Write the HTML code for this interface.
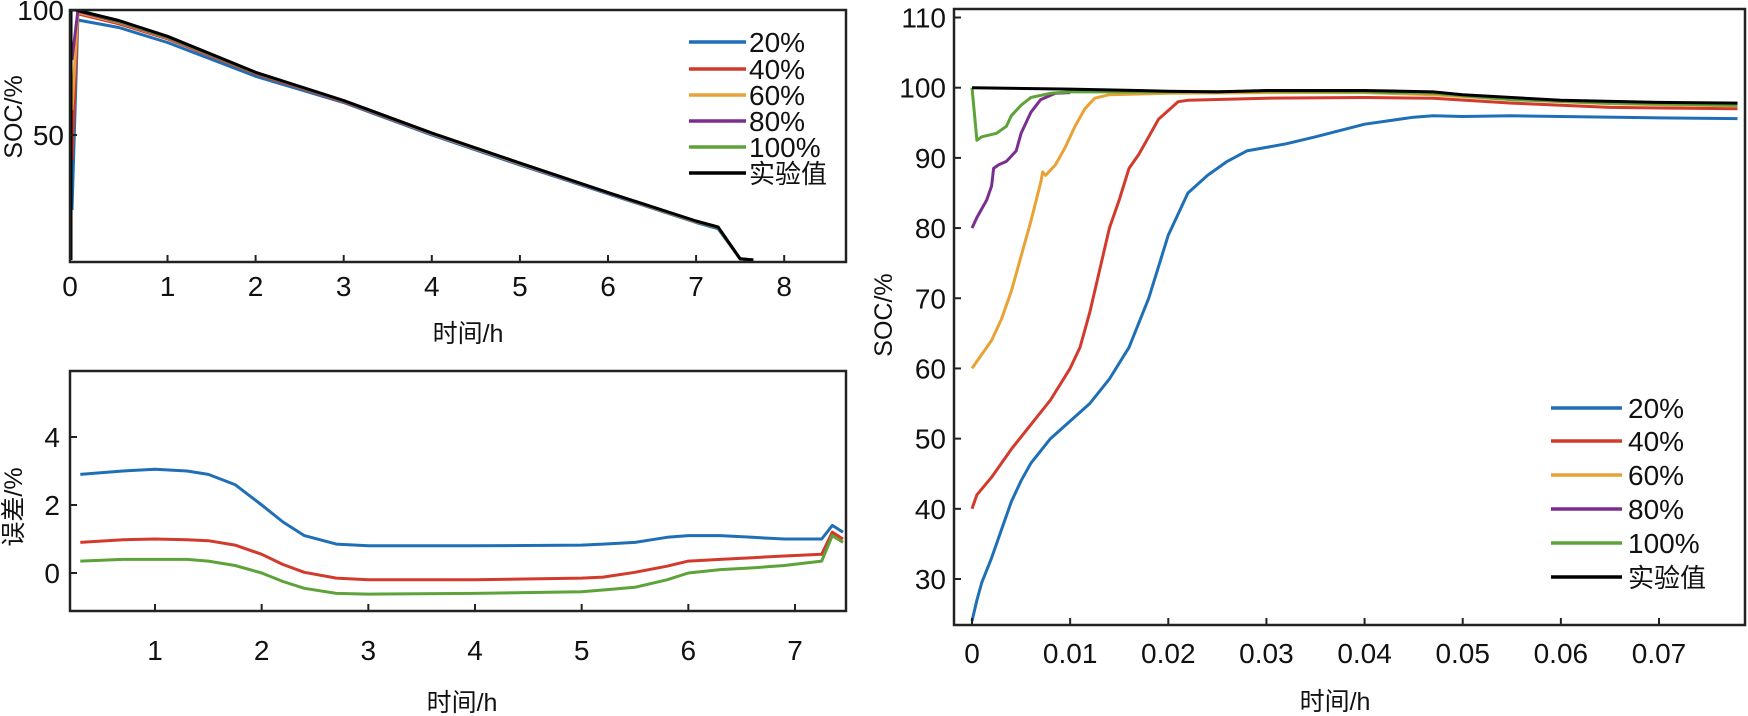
<!DOCTYPE html>
<html><head><meta charset="utf-8"><style>
html,body{margin:0;padding:0;background:#fff;}
svg{display:block;font-family:"Liberation Sans","Noto Sans CJK SC",sans-serif;}
.t{font-size:28px;fill:#111;}
.cj{font-family:"Liberation Sans","Noto Sans CJK SC",sans-serif;font-size:25px;fill:#111;}
</style></head><body>
<svg id="svg" width="1748" height="716" viewBox="0 0 1748 716" xmlns="http://www.w3.org/2000/svg"></svg>
<script>
// ---------- data ----------
const seriesNames = ["20%","40%","60%","80%","100%","实验值"];
const seriesColors = ["#1f6fb7","#d23a2c","#e8a235","#7a2f8e","#5ea23a","#000000"];

// top-left: SOC over full discharge (h)
const tlTicksX = [0,1,2,3,4,5,6,7,8];
const tlTicksY = [50,100];
const tlT = [
 [0.02,0.02,0.08,0.5,1,2,3,4,5,6,7,7.25,7.5,7.65],
 [0.02,0.02,0.08,0.5,1,2,3,4,5,6,7,7.25,7.5,7.65],
 [0.02,0.02,0.08,0.5,1,2,3,4,5,6,7,7.25,7.5,7.65],
 [0.02,0.02,0.08,0.5,1,2,3,4,5,6,7,7.25,7.5,7.65],
 [0.02,0.02,0.08,0.5,1,2,3,4,5,6,7,7.25,7.5,7.65],
 [0.01,0.01,0.06,0.5,1,2,3,4,5,6,7,7.25,7.5,7.65]
];
const tlV = [
 [20,20,96,93,87,73.5,63,50,38,26.5,15,12.5,0.5,0],
 [40,40,98.5,94.5,88.5,74.5,63.3,50.5,38.5,26.8,15.3,13,0.5,0],
 [60,60,99,95,88.8,74.8,63.5,50.5,38.5,26.8,15.3,13,0.5,0],
 [80,80,99.5,95.3,89,74.8,63.5,50.7,38.7,26.9,15.4,13,0.5,0],
 [100,100,100,95.5,89.2,74.9,63.7,50.8,38.8,27,15.5,13,0.5,0],
 [0,100,100,95.8,89.5,75.1,63.8,50.8,38.8,27,15.6,13.2,0.5,0]
];

// bottom-left: error (%)
const blTicksX = [1,2,3,4,5,6,7];
const blTicksY = [0,2,4];
const blT = [0.3,0.7,1.0,1.3,1.5,1.75,2.0,2.2,2.4,2.7,3.0,4.0,5.0,5.2,5.5,5.8,6.0,6.3,6.6,6.9,7.25,7.35,7.45];
const blBlue  = [2.9,3.0,3.05,3.0,2.9,2.6,2.0,1.5,1.1,0.85,0.8,0.8,0.82,0.85,0.9,1.05,1.1,1.1,1.05,1.0,1.0,1.4,1.2];
const blRed   = [0.9,0.98,1.0,0.98,0.95,0.82,0.55,0.25,0.02,-0.15,-0.2,-0.2,-0.15,-0.12,0.02,0.2,0.35,0.4,0.45,0.5,0.55,1.2,1.0];
const blGreen = [0.35,0.4,0.4,0.4,0.35,0.22,0.0,-0.25,-0.45,-0.6,-0.62,-0.6,-0.55,-0.5,-0.42,-0.2,0.0,0.1,0.15,0.22,0.35,1.1,0.9];

// right: initial convergence
const rTicksX = [0,0.01,0.02,0.03,0.04,0.05,0.06,0.07];
const rTicksY = [30,40,50,60,70,80,90,100,110];
const rT = [
 [0,0.0005,0.001,0.002,0.003,0.004,0.005,0.006,0.008,0.01,0.012,0.014,0.016,0.018,0.02,0.022,0.024,0.026,0.028,0.03,0.032,0.035,0.04,0.045,0.047,0.05,0.055,0.06,0.07,0.078],
 [0,0.0005,0.002,0.004,0.006,0.008,0.01,0.011,0.012,0.013,0.014,0.015,0.016,0.017,0.018,0.019,0.021,0.022,0.03,0.04,0.047,0.055,0.065,0.078],
 [0,0.0005,0.002,0.003,0.004,0.005,0.006,0.007,0.0072,0.0075,0.0085,0.0095,0.0105,0.0115,0.0125,0.014,0.02,0.03,0.04,0.047,0.055,0.065,0.078],
 [0,0.0005,0.0015,0.002,0.0022,0.0027,0.0035,0.0045,0.005,0.006,0.007,0.0085,0.01],
 [0,0.0005,0.001,0.0025,0.0035,0.004,0.005,0.006,0.008,0.01,0.02,0.03,0.04,0.047,0.055,0.065,0.078],
 [0,0.01,0.02,0.025,0.03,0.04,0.047,0.05,0.06,0.07,0.078]
];
const rV = [
 [24,27,29.5,33,37,41,44,46.5,50,52.5,55,58.5,63,70,79,85,87.5,89.5,91,91.5,92,93,94.8,95.8,96,95.9,96,95.9,95.7,95.6],
 [40,42,44.5,48.5,52,55.5,60,63,68,74,80,84,88.5,90.5,93,95.5,98,98.2,98.5,98.6,98.5,97.8,97.2,97],
 [60,61,64,67,71,76,81,86.5,88,87.5,89,91.5,94.5,97,98.5,99,99.2,99.3,99.3,99,98.3,97.7,97.4],
 [80,81.5,84,86,88.5,89,89.5,91,93.5,96.5,98.3,99.2,99.3],
 [100,92.5,93,93.5,94.5,96,97.5,98.6,99.2,99.4,99.4,99.5,99.4,99.2,98.3,97.8,97.5],
 [100,99.8,99.5,99.4,99.6,99.6,99.4,99,98.2,97.9,97.8]
];

// ---------- helpers ----------
const svg = document.getElementById('svg');
const NS = "http://www.w3.org/2000/svg";
function mk(tag, attrs, parent){
  const e = document.createElementNS(NS, tag);
  for (const k in attrs) e.setAttribute(k, attrs[k]);
  (parent||svg).appendChild(e);
  return e;
}
function lin(d0,d1,r0,r1){ return v => r0 + (v-d0)/(d1-d0)*(r1-r0); }
function pathFrom(xs, ys, sx, sy){
  return xs.map((x,i)=>(i?'L':'M')+sx(x).toFixed(1)+','+sy(ys[i]).toFixed(1)).join('');
}
function drawBox(x0,y0,x1,y1,name){
  const r = mk('rect',{x:x0,y:y0,width:x1-x0,height:y1-y0,fill:'none',stroke:'#222','stroke-width':2.5});
  
  
}
function xTicks(ticks, sx, yb, ly, fmt, name){
  ticks.forEach(v=>{
    const X = sx(v);
    const l = mk('line',{x1:X,x2:X,y1:yb,y2:yb-7,stroke:'#222','stroke-width':2});
    
    
    const t = mk('text',{x:X,y:ly,'text-anchor':'middle',class:'t'});
    t.textContent = fmt(v);
    
    
  });
}
function yTicks(ticks, sy, xl, lx, name){
  ticks.forEach(v=>{
    const Y = sy(v);
    const l = mk('line',{x1:xl,x2:xl+7,y1:Y,y2:Y,stroke:'#222','stroke-width':2});
    
    
    const t = mk('text',{x:lx,y:Y+10,'text-anchor':'end',class:'t'});
    t.textContent = String(v);
    
    
  });
}
function label(txt,x,y,rot,name){
  const t = mk('text',{x:x,y:y,'text-anchor':'middle',class:'cj',transform:rot?`rotate(-90 ${x} ${y})`:''});
  t.textContent = txt;
  
  
}
function legend(x0,x1,tx,ys,name){
  seriesNames.forEach((n,i)=>{
    const g = mk('g',{});
    
    
    mk('line',{x1:x0,x2:x1,y1:ys[i],y2:ys[i],stroke:seriesColors[i],'stroke-width':3.5},g);
    const t = mk('text',{x:tx,y:ys[i]+10,class:'t',style:i==5?'font-size:26px':''},g);
    t.textContent = n;
  });
}

// ---------- top-left ----------
{
  const sx = v => v<1 ? 70 + v*97.5 : 167.5 + (v-1)*88.1;
  const sy = lin(0,100,260,10);
  const clip = mk('clipPath',{id:'c1'}); mk('rect',{x:70,y:10,width:776,height:252},clip);
  const g = mk('g',{'clip-path':'url(#c1)'});
   
  tlT.forEach((ts,i)=>{
    const p = mk('path',{d:pathFrom(ts,tlV[i],sx,sy),fill:'none',stroke:seriesColors[i],'stroke-width':3,'stroke-linejoin':'round'},g);
    
    
  });
  drawBox(70,10,846,262,'soc-axes-box');
  xTicks(tlTicksX,sx,262,296,v=>String(v),'soc-x');
  yTicks(tlTicksY,sy,70,64,'soc-y');
  label('时间/h',468,342,false,'soc-x-axis-title');
  label('SOC/%',22,117,true,'soc-y-axis-title');
  legend(689,746,749,[42,69,95,121,147,173],'soc-legend');
}
// ---------- bottom-left ----------
{
  const sx = lin(1,7,155,795), sy = lin(0,4,573,437);
  const g = mk('g',{});
   
  [[blBlue,0],[blRed,1],[blGreen,4]].forEach(([v,ci])=>{
    const p = mk('path',{d:pathFrom(blT,v,sx,sy),fill:'none',stroke:seriesColors[ci],'stroke-width':3,'stroke-linejoin':'round'},g);
    
    
  });
  drawBox(70,371,846,611,'error-axes-box');
  xTicks(blTicksX,sx,611,660,v=>String(v),'error-x');
  yTicks(blTicksY,sy,70,60,'error-y');
  label('时间/h',462,711,false,'error-x-axis-title');
  label('误差/%',22,507,true,'error-y-axis-title');
}
// ---------- right ----------
{
  const sx = lin(0,0.07,972,1659), sy = lin(30,100,579,87.7);
  const clip = mk('clipPath',{id:'c3'}); mk('rect',{x:954,y:10,width:790,height:615},clip);
  const g = mk('g',{'clip-path':'url(#c3)'});
   
  rT.forEach((ts,i)=>{
    const p = mk('path',{d:pathFrom(ts,rV[i],sx,sy),fill:'none',stroke:seriesColors[i],'stroke-width':3,'stroke-linejoin':'round'},g);
    
    
  });
  drawBox(954,9,1745,625,'convergence-axes-box');
  xTicks(rTicksX,sx,625,663,v=>String(v),'convergence-x');
  yTicks(rTicksY,sy,954,946,'convergence-y');
  label('时间/h',1335,710,false,'convergence-x-axis-title');
  label('SOC/%',892,315,true,'convergence-y-axis-title');
  legend(1551,1622,1628,[408,441,475,509,543,577],'convergence-legend');
}
</script>
</body></html>
